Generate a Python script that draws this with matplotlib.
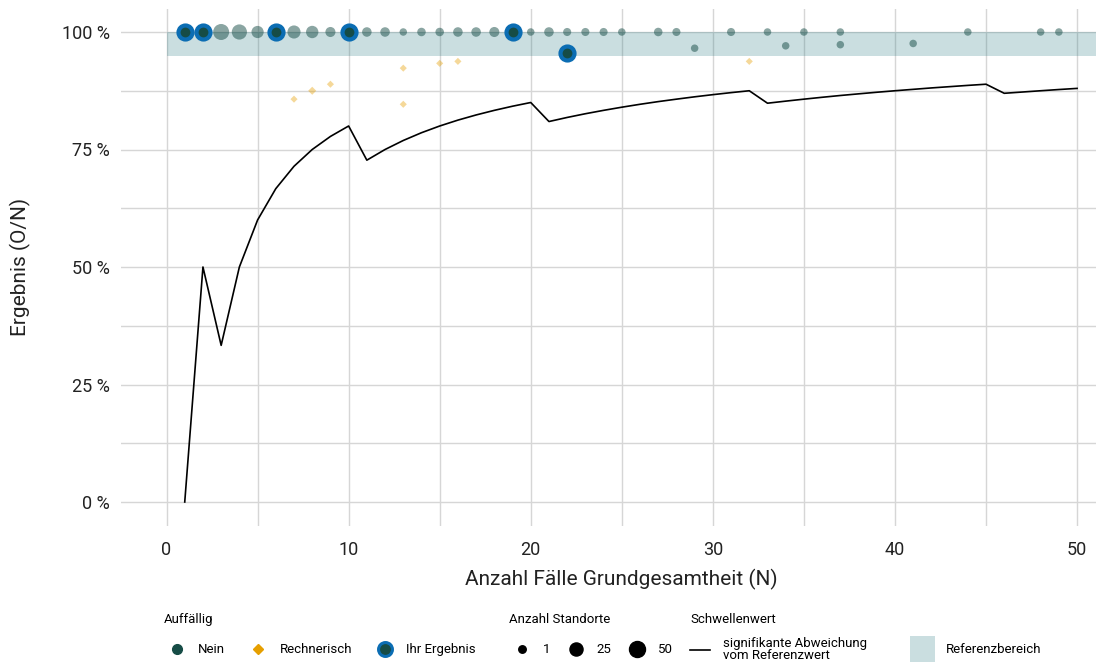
import numpy as np
import matplotlib
matplotlib.use('Agg')
import matplotlib.pyplot as plt
from matplotlib import font_manager
from matplotlib.lines import Line2D
from matplotlib.patches import Patch

# pick a narrow-ish font if there is one
names = {f.name for f in font_manager.fontManager.ttflist}
font = 'Liberation Sans Narrow' if 'Liberation Sans Narrow' in names else 'Roboto'
plt.rcParams['font.family'] = [font, 'DejaVu Sans']

# threshold line (significant deviation), N = 1..50
n_cases = list(range(1, 51))
threshold = [0, 50, 33.33, 50, 60, 66.67, 71.43, 75, 77.78, 80,
             72.73, 75, 76.92, 78.57, 80, 81.25, 82.35, 83.33, 84.21, 85,
             80.95, 81.82, 82.61, 83.33, 84, 84.62, 85.19, 85.71, 86.21, 86.67, 87.10, 87.5,
             84.85, 85.29, 85.71, 86.11, 86.49, 86.84, 87.18, 87.5, 87.80, 88.10, 88.37, 88.64, 88.89,
             86.96, 87.23, 87.5, 87.76, 88.0]

# Auffällig: Nein
nein_n = [3, 4, 5, 7, 8, 9, 11, 12, 13, 14, 15, 16, 17, 18, 20, 21, 22, 23, 24, 25,
          27, 28, 29, 31, 33, 34, 35, 37, 37, 41, 44, 48, 49]
nein_val = [100, 100, 100, 100, 100, 100, 100, 100, 100, 100, 100, 100, 100, 100, 100, 100, 100, 100, 100, 100,
            100, 100, 96.55, 100, 100, 97.06, 100, 100, 97.30, 97.56, 100, 100, 100]
nein_count = [50, 42, 19, 25, 20, 8, 6, 6, 1, 3, 3, 6, 6, 8, 1, 6, 2, 2, 2, 1,
              3, 2, 1, 2, 1, 1, 1, 1, 1, 1, 1, 1, 1]

# Auffällig: Rechnerisch
rech_n = [7, 8, 9, 13, 13, 15, 16, 32]
rech_val = [85.71, 87.5, 88.89, 92.31, 84.62, 93.33, 93.75, 93.75]
rech_count = [1, 3, 1, 1, 1, 1, 1, 1]

# Ihr Ergebnis
ihr_n = [1, 2, 6, 10, 19, 22]
ihr_val = [100, 100, 100, 100, 100, 95.45]

ref_low, ref_high = 95, 100

dark = '#164c46'
blue = '#0b6db3'
orange = '#e69f00'


def size_pts(c):
    # diameter in px, area scaled like ggplot scale_size
    d = 7.5 + 8.5 * (np.sqrt(np.asarray(c, float)) - 1) / (np.sqrt(50) - 1)
    return (d * 0.72) ** 2


fig = plt.figure(figsize=(10.96, 6.62), dpi=100)
ax = fig.add_axes([121 / 1096, 1 - 525.5 / 662, (1122.6 - 121) / 1096, (525.5 - 8.5) / 662])
ax.set_xlim(-2.5, 52.5)
ax.set_ylim(-5, 105)

for s in ax.spines.values():
    s.set_visible(False)
ax.set_xticks([0, 10, 20, 30, 40, 50])
ax.set_xticks([5, 15, 25, 35, 45], minor=True)
ax.set_yticks([0, 25, 50, 75, 100])
ax.set_yticklabels(['0 %', '25 %', '50 %', '75 %', '100 %'])
ax.set_yticks([12.5, 37.5, 62.5, 87.5], minor=True)
ax.grid(True, which='both', color='#d6d6d6', lw=1.0)
ax.set_axisbelow(True)
ax.tick_params(which='both', length=0, labelsize=13, colors='#222222')
ax.tick_params(axis='x', pad=11)
ax.tick_params(axis='y', pad=8)

ax.fill_between([0, 60], ref_low, ref_high, color='#2e7d84', alpha=0.25, lw=0, zorder=1)
ax.plot(n_cases, threshold, color='black', lw=1.2, zorder=2)

ax.scatter(nein_n, nein_val, s=size_pts(nein_count), color=dark, alpha=0.5, lw=0, zorder=3)
ax.scatter(rech_n, rech_val, s=size_pts(rech_count) * 0.45, marker='D', color=orange, alpha=0.4, lw=0, zorder=3)
ax.scatter(ihr_n, ihr_val, s=(14 * 0.72) ** 2, facecolor=dark, edgecolor=blue, lw=3.0, zorder=4)

ax.set_xlabel('Anzahl Fälle Grundgesamtheit (N)', fontsize=15, color='#222222', labelpad=7)
ax.set_ylabel('Ergebnis (O/N)', fontsize=15, color='#222222', labelpad=22)

# legends
lk = dict(frameon=False, loc='upper left', fontsize=9.5, title_fontsize=9.5,
          alignment='left', handletextpad=0.6, borderpad=0, borderaxespad=0,
          labelspacing=1.3)
h1 = [Line2D([], [], marker='o', ls='', color=dark, markersize=7),
      Line2D([], [], marker='D', ls='', color=orange, markersize=5),
      Line2D([], [], marker='o', ls='', markerfacecolor=dark, markeredgecolor=blue,
             markeredgewidth=2.2, markersize=10)]
leg1 = fig.legend(h1, ['Nein', 'Rechnerisch', 'Ihr Ergebnis'], title='Auffällig', ncol=3,
                  bbox_to_anchor=(164 / 1096, 1 - 613 / 662), columnspacing=1.5, **lk)

sizes = [1, 25, 50]
h2 = [Line2D([], [], marker='o', ls='', color='black', markersize=np.sqrt(size_pts(c))) for c in sizes]
leg2 = fig.legend(h2, [str(c) for c in sizes], title='Anzahl Standorte', ncol=3,
                  bbox_to_anchor=(509 / 1096, 1 - 613 / 662), columnspacing=0.9, **lk)

lk3 = dict(lk, handletextpad=1.0, labelspacing=0.8)
h3 = [Line2D([], [], color='black', lw=1.2)]
leg3 = fig.legend(h3, ['signifikante Abweichung\nvom Referenzwert'], title='Schwellenwert',
                  bbox_to_anchor=(690 / 1096, 1 - 613 / 662), handlelength=1.5, **lk3)
leg3.get_texts()[0].set_linespacing(0.95)

h4 = [Patch(facecolor='#2e7d84', alpha=0.25, lw=0)]
leg4 = fig.legend(h4, ['Referenzbereich'], bbox_to_anchor=(910 / 1096, 1 - 636 / 662),
                  handlelength=1.9, handleheight=2.6, handletextpad=0.8,
                  frameon=False, loc='upper left', fontsize=9.5, borderpad=0, borderaxespad=0)

fig.savefig('out.png', dpi=100)
